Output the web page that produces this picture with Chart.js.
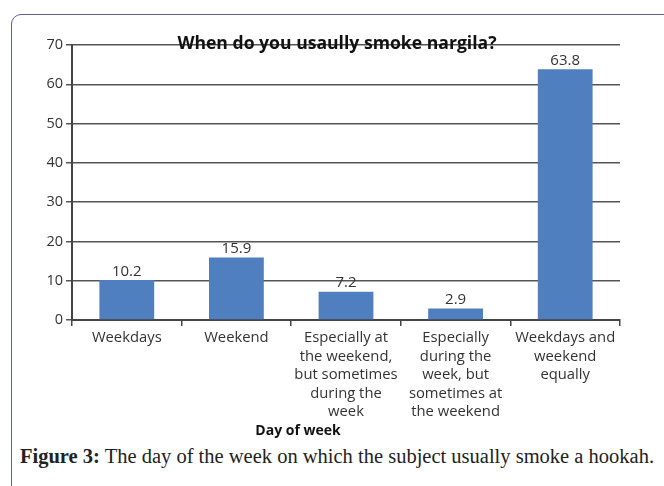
<!DOCTYPE html>
<html>
<head>
<meta charset="utf-8">
<script src="https://cdn.jsdelivr.net/npm/chart.js@4.4.1/dist/chart.umd.min.js"></script>
<style>
  html, body { margin: 0; padding: 0; background: #fff; }
  body { width: 664px; height: 486px; position: relative; overflow: hidden; }
  #frame { position: absolute; left: 11px; top: 14px; width: 720px; height: 600px;
           border: 1.5px solid #5d5f9e; border-radius: 10px; }
  #wrap { position: absolute; left: 0; top: 0; width: 664px; height: 445px; }
  #caption { position: absolute; left: 20px; top: 445px; font-family: "Liberation Serif", serif;
             font-size: 20.5px; color: #222; white-space: nowrap; }
</style>
</head>
<body>
<div id="frame"></div>
<div id="wrap"><canvas id="chart"></canvas></div>
<div id="caption"><b>Figure 3:</b> The day of the week on which the subject usually smoke a hookah.</div>
<script>
// data
const chartTitle = 'When do you usaully smoke nargila?';
const axisTitle = 'Day of week';
const categories = [
  ['Weekdays'],
  ['Weekend'],
  ['Especially at', 'the weekend,', 'but sometimes', 'during the', 'week'],
  ['Especially', 'during the', 'week, but', 'sometimes at', 'the weekend'],
  ['Weekdays and', 'weekend', 'equally']
];
const percentValues = [10.2, 15.9, 7.2, 2.9, 63.8];
const yTickValues = [0, 10, 20, 30, 40, 50, 60, 70];

const FONT = '"Open Sans", sans-serif';

// value labels, chart title, axis title
const extras = {
  id: 'extras',
  afterDatasetsDraw(chart) {
    const ctx = chart.ctx;
    const meta = chart.getDatasetMeta(0);
    ctx.save();
    ctx.fillStyle = '#333';
    ctx.font = '15px ' + FONT;
    ctx.textAlign = 'center';
    ctx.textBaseline = 'bottom';
    meta.data.forEach((bar, i) => {
      ctx.fillText(percentValues[i].toFixed(1), bar.x, bar.y - 1);
    });
    ctx.restore();
  },
  afterDraw(chart) {
    const ctx = chart.ctx;
    const y = chart.scales.y;
    ctx.save();
    ctx.fillStyle = '#111';
    ctx.textAlign = 'center';
    ctx.textBaseline = 'middle';
    ctx.font = 'bold 17.6px ' + FONT;
    ctx.fillText(chartTitle, 337, y.getPixelForValue(70) - 1);
    ctx.font = 'bold 14px ' + FONT;
    ctx.fillText(axisTitle, 298, 431);
    ctx.restore();
  }
};

new Chart(document.getElementById('chart'), {
  type: 'bar',
  data: {
    labels: categories,
    datasets: [{
      data: percentValues,
      backgroundColor: '#4f7fbe',
      borderWidth: 0,
      categoryPercentage: 1,
      barPercentage: 0.5
    }]
  },
  options: {
    responsive: true,
    maintainAspectRatio: false,
    animation: false,
    layout: { padding: { top: 45, right: 44, left: 0, bottom: 0 } },
    plugins: { legend: { display: false }, tooltip: { enabled: false } },
    scales: {
      x: {
        afterFit(scale) { scale.height = 125; },
        grid: { drawOnChartArea: false, drawTicks: true, tickLength: 6, offset: true, color: '#444', lineWidth: 1.5 },
        border: { color: '#444', width: 2 },
        ticks: { color: '#333', font: { family: FONT, size: 14.8, lineHeight: 1.25 }, padding: 3, maxRotation: 0, autoSkip: false }
      },
      y: {
        min: 0,
        max: 70,
        afterFit(scale) { scale.width = 72; },
        afterBuildTicks(scale) { scale.ticks = yTickValues.map(v => ({ value: v })); },
        grid: { color: '#555', lineWidth: 1.5, tickLength: 6 },
        border: { color: '#444', width: 2 },
        ticks: { color: '#333', font: { family: FONT, size: 14.5 }, padding: 3 }
      }
    }
  },
  plugins: [extras]
});
</script>
</body>
</html>
